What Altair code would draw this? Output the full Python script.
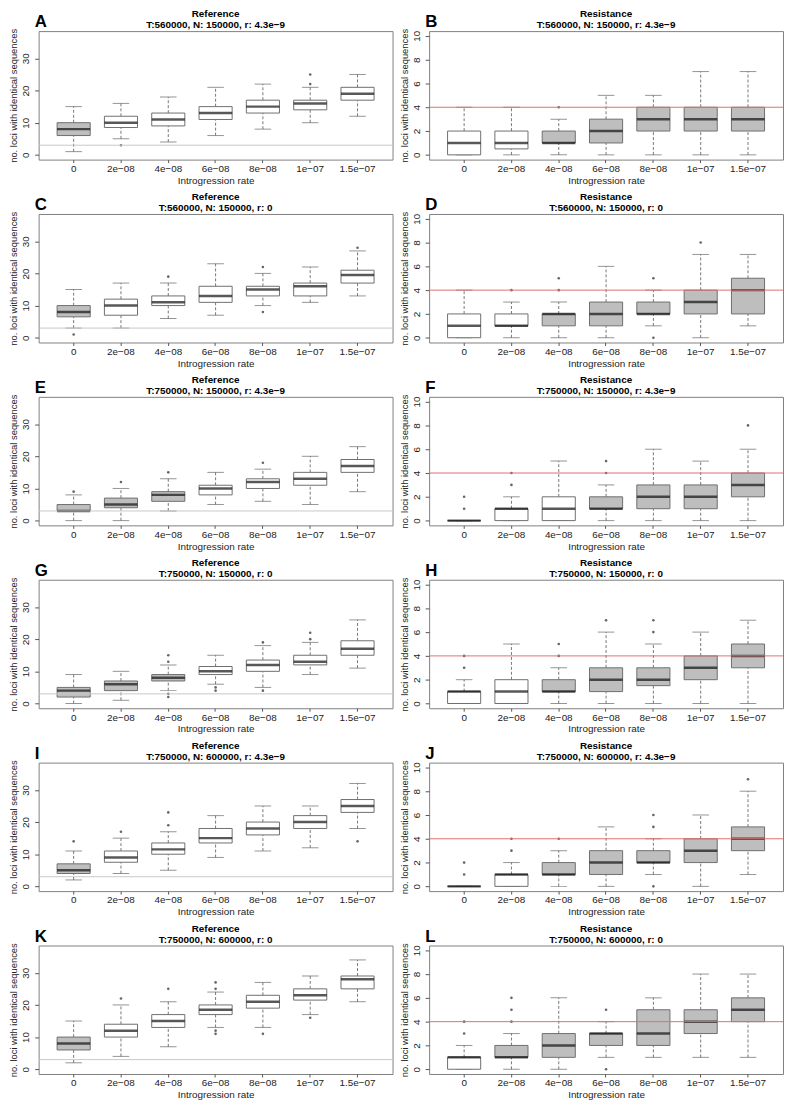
import altair as alt
import pandas as pd

cats = ["0", "2e\u221208", "4e\u221208", "6e\u221208", "8e\u221208", "1e\u221207", "1.5e\u221207"]

# Panel A
A_lo = [1, 5, 4, 6, 8, 10, 12]
A_q1 = [6, 8.5, 9, 11, 13, 14, 17]
A_med = [8, 10, 11, 13, 15, 16, 19]
A_q3 = [10, 12, 13, 15, 17, 17, 21]
A_hi = [15, 16, 18, 21, 22, 21, 25]
A_shade = [1, 0, 0, 0, 0, 0, 0]
A_out_cat = [1, 5, 5]
A_out_val = [3, 22, 25]

# Panel B
B_lo = [0, 0, 0, 0, 0, 0, 0]
B_q1 = [0, 0.5, 1, 1, 2, 2, 2]
B_med = [1, 1, 1, 2, 3, 3, 3]
B_q3 = [2, 2, 2, 3, 4, 4, 4]
B_hi = [4, 4, 3, 5, 5, 7, 7]
B_shade = [0, 0, 1, 1, 1, 1, 1]
B_out_cat = [2]
B_out_val = [4]

# Panel C
C_lo = [3, 3, 6, 7, 10, 11, 13]
C_q1 = [6.5, 7, 10, 11, 13, 13, 17]
C_med = [8, 10, 11, 13, 15, 16, 19.5]
C_q3 = [10, 12, 13, 16, 16, 17, 21]
C_hi = [15, 17, 17, 23, 20, 22, 27]
C_shade = [1, 0, 0, 0, 0, 0, 0]
C_out_cat = [0, 2, 4, 4, 6]
C_out_val = [1, 19, 8, 22, 28]

# Panel D
D_lo = [0, 0, 0, 0, 1, 0, 1]
D_q1 = [0, 1, 1, 1, 2, 2, 2]
D_med = [1, 1, 2, 2, 2, 3, 4]
D_q3 = [2, 2, 2, 3, 3, 4, 5]
D_hi = [4, 3, 3, 6, 4, 7, 7]
D_shade = [0, 0, 1, 1, 1, 1, 1]
D_out_cat = [1, 2, 2, 4, 4, 5]
D_out_val = [4, 4, 5, 0, 5, 8]

# Panel E
E_lo = [0, 0, 3, 5, 6, 5, 9]
E_q1 = [3, 4, 6, 8, 10, 11, 15]
E_med = [3, 5, 8, 10, 12, 13, 17]
E_q3 = [5, 7, 9, 11, 13, 15, 19]
E_hi = [8, 10, 13, 15, 16, 20, 23]
E_shade = [1, 1, 1, 0, 0, 0, 0]
E_out_cat = [0, 1, 2, 4]
E_out_val = [9, 12, 15, 18]

# Panel F
F_lo = [0, 0, 0, 0, 0, 0, 0]
F_q1 = [0, 0, 0, 1, 1, 1, 2]
F_med = [0, 1, 1, 1, 2, 2, 3]
F_q3 = [0, 1, 2, 2, 3, 3, 4]
F_hi = [0, 2, 5, 3, 6, 5, 6]
F_shade = [0, 0, 0, 1, 1, 1, 1]
F_out_cat = [0, 0, 1, 1, 3, 3, 6]
F_out_val = [1, 2, 3, 4, 4, 5, 8]

# Panel G
G_lo = [0, 1, 4, 6, 5, 9, 11]
G_q1 = [2, 4, 7, 9, 10, 12, 15]
G_med = [4, 6, 8, 10, 12, 13, 17]
G_q3 = [5, 7, 9, 11.5, 13.5, 15, 19.5]
G_hi = [9, 10, 12, 15, 18, 19, 26]
G_shade = [1, 1, 1, 0, 0, 0, 0]
G_out_cat = [2, 2, 2, 2, 3, 3, 4, 4, 5, 5]
G_out_val = [2, 3, 13, 15, 4, 5, 4, 19, 20, 22]

# Panel H
H_lo = [0, 0, 0, 0, 0, 0, 0]
H_q1 = [0, 0, 1, 1, 1.5, 2, 3]
H_med = [1, 1, 1, 2, 2, 3, 4]
H_q3 = [1, 2, 2, 3, 3, 4, 5]
H_hi = [2, 5, 3, 6, 5, 6, 7]
H_shade = [0, 0, 1, 1, 1, 1, 1]
H_out_cat = [0, 0, 2, 2, 3, 4, 4]
H_out_val = [3, 4, 4, 5, 7, 6, 7]

# Panel I
I_lo = [2, 4, 5, 9, 11, 12, 18]
I_q1 = [4, 7.5, 10, 13.5, 16, 18, 23]
I_med = [5, 9, 11.5, 15, 18, 20, 25]
I_q3 = [7, 11, 13.5, 18, 20, 22, 27]
I_hi = [11, 15, 17, 22, 25, 25, 32]
I_shade = [1, 0, 0, 0, 0, 0, 0]
I_out_cat = [0, 1, 2, 2, 6]
I_out_val = [14, 17, 19, 23, 14]

# Panel J
J_lo = [0, 0, 0, 0, 1, 0, 1]
J_q1 = [0, 0, 1, 1, 2, 2, 3]
J_med = [0, 1, 1, 2, 2, 3, 4]
J_q3 = [0, 1, 2, 3, 3, 4, 5]
J_hi = [0, 2, 3, 5, 4, 6, 8]
J_shade = [0, 0, 1, 1, 1, 1, 1]
J_out_cat = [0, 0, 1, 1, 2, 4, 4, 4, 6]
J_out_val = [1, 2, 3, 4, 4, 0, 5, 6, 9]

# Panel K
K_lo = [2, 4, 7, 13, 13, 17, 21]
K_q1 = [6, 10, 13, 17, 19, 21.5, 25]
K_med = [8, 12, 15, 18.5, 21, 23, 28]
K_q3 = [10, 14, 17, 20, 23, 25, 29]
K_hi = [15, 20, 21, 24, 27, 29, 34]
K_shade = [1, 0, 0, 0, 0, 0, 0]
K_out_cat = [1, 2, 3, 3, 3, 3, 4, 5]
K_out_val = [22, 25, 11, 12, 25, 27, 11, 16]

# Panel L
L_lo = [0, 0, 0, 1, 1, 1, 1]
L_q1 = [0, 1, 1, 2, 2, 3, 4]
L_med = [1, 1, 2, 3, 3, 4, 5]
L_q3 = [1, 2, 3, 3, 5, 5, 6]
L_hi = [2, 3, 6, 4, 6, 8, 8]
L_shade = [0, 1, 1, 1, 1, 1, 1]
L_out_cat = [0, 0, 1, 1, 1, 3, 3]
L_out_val = [3, 4, 4, 5, 6, 0, 5]

letters = ["A", "B", "C", "D", "E", "F", "G", "H", "I", "J", "K", "L"]
kinds = ["Reference", "Resistance"] * 6
subtitles = [
    "T:560000, N: 150000, r: 4.3e\u22129", "T:560000, N: 150000, r: 4.3e\u22129",
    "T:560000, N: 150000, r: 0", "T:560000, N: 150000, r: 0",
    "T:750000, N: 150000, r: 4.3e\u22129", "T:750000, N: 150000, r: 4.3e\u22129",
    "T:750000, N: 150000, r: 0", "T:750000, N: 150000, r: 0",
    "T:750000, N: 600000, r: 4.3e\u22129", "T:750000, N: 600000, r: 4.3e\u22129",
    "T:750000, N: 600000, r: 0", "T:750000, N: 600000, r: 0",
]
ref_domain = [-1.48, 38.48]
ref_ticks = [0, 10, 20, 30]
ref_line = [3]
res_domain = [-0.4, 10.4]
res_ticks = [0, 2, 4, 6, 8, 10]
res_line = [4]

y_title = "no. loci with identical sequences"
x_title = "Introgression rate"

FONT = "Liberation Sans"
W = 358
H = 130
STEP = W / 7.48
BOXW = STEP * 0.7

G = globals()


def panel(letter, kind, sub):
    lo, q1, med, q3, hi = (G[letter + s] for s in ["_lo", "_q1", "_med", "_q3", "_hi"])
    shade = G[letter + "_shade"]
    oc, ov = G[letter + "_out_cat"], G[letter + "_out_val"]
    is_ref = kind == "Reference"
    dom = ref_domain if is_ref else res_domain
    ticks = ref_ticks if is_ref else res_ticks
    line = ref_line if is_ref else res_line
    line_color = "#c8c8c8" if is_ref else "#e07070"

    df = pd.DataFrame({"cat": cats, "lo": lo, "q1": q1, "med": med, "q3": q3,
                       "hi": hi, "shade": [str(s) for s in shade]})
    od = pd.DataFrame({"cat": [cats[i] for i in oc], "v": ov})
    ld = pd.DataFrame({"v": line})
    td = pd.DataFrame({"t": [letter], "k": [kind], "s": [sub]})

    xaxis = alt.Axis(labelAngle=0, tickSize=3, labelPadding=1, labelFontSize=10,
                     titleFontSize=10, titlePadding=2, domain=False, grid=False,
                     tickColor="#555555", labelColor="#222222", titleColor="#222222",
                     titleFontWeight="normal", labelOverlap=False)
    yaxis = alt.Axis(values=ticks, labelAngle=270, labelAlign="center",
                     labelBaseline="bottom", tickSize=4, labelPadding=4,
                     titlePadding=2, titleFontSize=9.5, labelFontSize=10,
                     domain=False, grid=False, tickColor="#555555",
                     labelColor="#222222", titleColor="#222222",
                     titleFontWeight="normal")
    yscale = alt.Scale(domain=dom, nice=False, zero=False)
    xenc = alt.X("cat:N", sort=cats, title=x_title, axis=xaxis,
                 scale=alt.Scale(paddingInner=0.3, paddingOuter=0.39))

    def Y(f):
        return alt.Y(f + ":Q", scale=yscale, axis=yaxis, title=y_title)

    def Y2(f):
        return alt.Y2(f + ":Q")

    base = alt.Chart(df)
    wl = base.mark_rule(color="#777777", strokeDash=[3, 2], strokeWidth=1).encode(
        x=xenc, y=Y("lo"), y2=Y2("q1"))
    wh = base.mark_rule(color="#777777", strokeDash=[3, 2], strokeWidth=1).encode(
        x=xenc, y=Y("q3"), y2=Y2("hi"))
    cl = base.mark_tick(color="#666666", size=BOXW * 0.5, thickness=1).encode(
        x=xenc, y=Y("lo"))
    ch = base.mark_tick(color="#666666", size=BOXW * 0.5, thickness=1).encode(
        x=xenc, y=Y("hi"))
    box = base.mark_bar(stroke="#6e6e6e", strokeWidth=1).encode(
        x=xenc, y=Y("q1"), y2=Y2("q3"),
        fill=alt.Fill("shade:N", scale=alt.Scale(domain=["0", "1"],
                                                 range=["#ffffff", "#bebebe"]),
                      legend=None))
    medl = base.mark_tick(color="#111111", size=BOXW, thickness=2.5).encode(
        x=xenc, y=Y("med"))
    outs = alt.Chart(od).mark_circle(color="#666666", size=7, opacity=1).encode(
        x=xenc, y=Y("v"))
    rl = alt.Chart(ld).mark_rule(color=line_color, strokeWidth=1).encode(y=Y("v"))
    tb = alt.Chart(td)
    lt = tb.mark_text(fontSize=17, fontWeight="bold", align="left",
                      baseline="alphabetic", color="black", font=FONT).encode(
        text="t:N", x=alt.value(-4), y=alt.value(-4))
    t1 = tb.mark_text(fontSize=10, fontWeight="bold", align="center",
                      baseline="alphabetic", color="black", font=FONT).encode(
        text="k:N", x=alt.value(W / 2), y=alt.value(-14))
    t2 = tb.mark_text(fontSize=10, fontWeight="bold", align="center",
                      baseline="alphabetic", color="black", font=FONT).encode(
        text="s:N", x=alt.value(W / 2), y=alt.value(-3))

    return alt.layer(wl, wh, cl, ch, box, medl, outs, rl, lt, t1, t2).properties(
        width=W, height=H)


panels = [panel(l, k, s) for l, k, s in zip(letters, kinds, subtitles)]

chart = alt.concat(*panels, columns=2, spacing={"row": 55, "column": 37},
                   bounds="flush").properties(
    padding={"top": -6, "left": 0, "right": 0, "bottom": 0}).configure(
    font=FONT).configure_view(stroke="#808080", strokeWidth=1)

chart.save("out.html", embed_options={"renderer": "svg", "actions": False})
